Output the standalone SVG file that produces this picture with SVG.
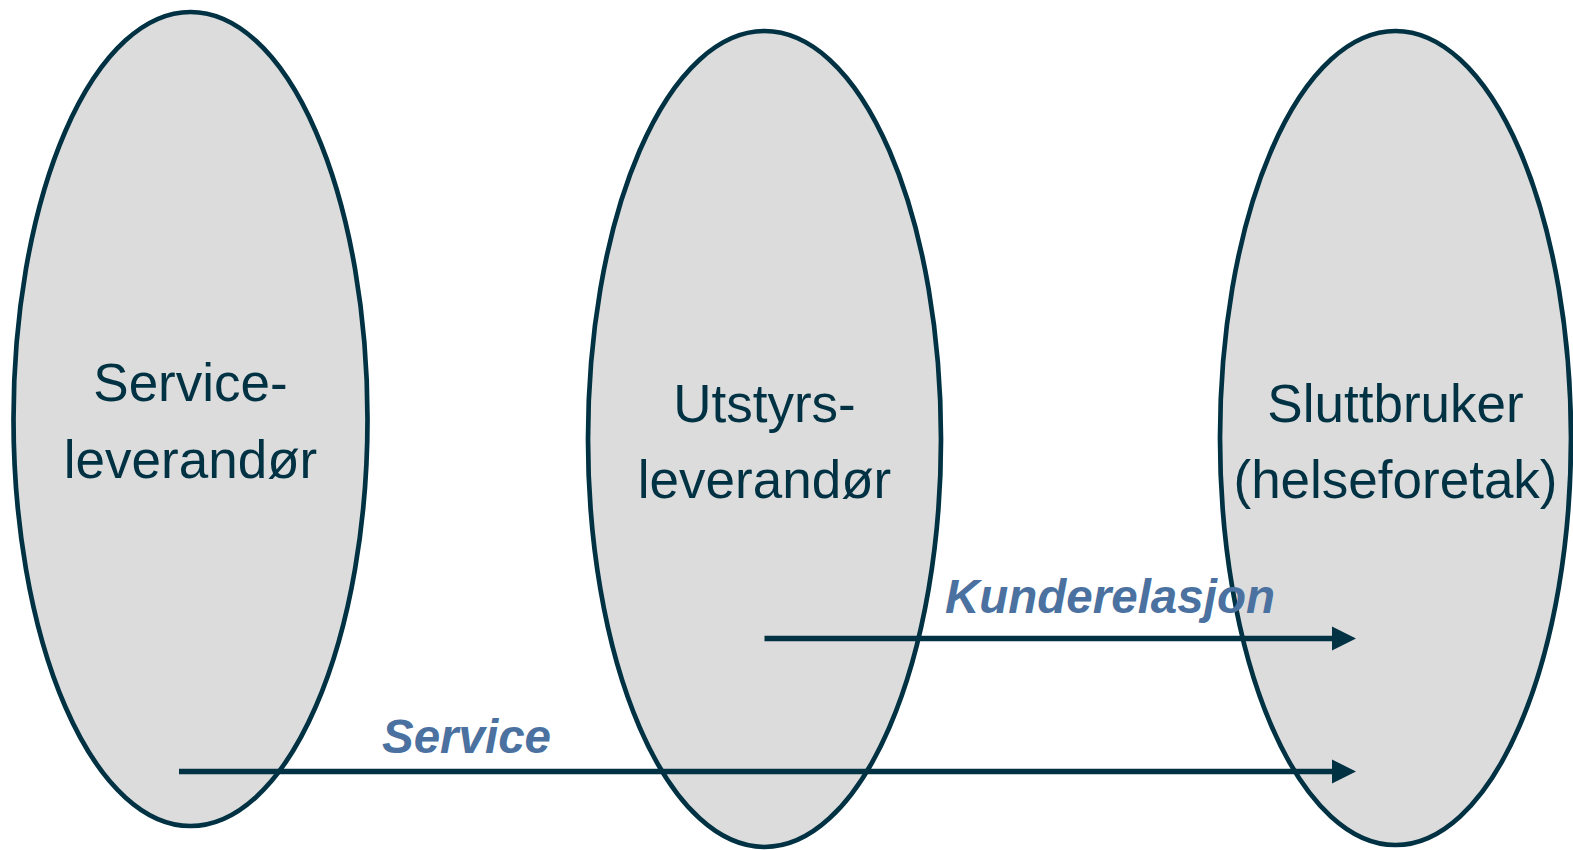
<svg xmlns="http://www.w3.org/2000/svg" width="1573" height="850" viewBox="0 0 1573 850">
<defs>
<style>
.node{fill:#dcdcdc;stroke:#003243;stroke-width:4.7}
.ntext{font-family:"Liberation Sans",Arial,sans-serif;font-size:53px;fill:#003243;text-anchor:middle}
.edge{stroke:#003243;stroke-width:5.5;fill:none}
.head{fill:#003243}
.elabel{font-family:"Liberation Sans",Arial,sans-serif;font-size:47.5px;font-weight:bold;font-style:italic;fill:#4a71a0}
</style>
</defs>
<rect width="1573" height="850" fill="#ffffff"/>
<g id="service-leverandor">
<ellipse class="node" cx="190.5" cy="419" rx="177" ry="407"/>
<text class="ntext" x="190.5" y="401">Service-</text>
<text class="ntext" x="190.5" y="478">leverandør</text>
</g>
<g id="utstyrs-leverandor">
<ellipse class="node" cx="764.5" cy="439" rx="176.5" ry="408"/>
<text class="ntext" x="764.5" y="422">Utstyrs-</text>
<text class="ntext" x="764.5" y="498">leverandør</text>
</g>
<g id="sluttbruker">
<ellipse class="node" cx="1395.5" cy="438" rx="175.5" ry="407"/>
<text class="ntext" x="1395.5" y="422">Sluttbruker</text>
<text class="ntext" x="1395.5" y="498">(helseforetak)</text>
</g>
<g id="connectors">
<line class="edge" x1="764.5" y1="638.5" x2="1334" y2="638.5"/>
<polygon class="head" points="1332,626.5 1356,638.5 1332,650.5"/>
<line class="edge" x1="179" y1="771.5" x2="1334" y2="771.5"/>
<polygon class="head" points="1332,759.5 1356,771.5 1332,783.5"/>
<text class="elabel" x="945" y="613">Kunderelasjon</text>
<text class="elabel" x="382" y="753">Service</text>
</g>
</svg>
